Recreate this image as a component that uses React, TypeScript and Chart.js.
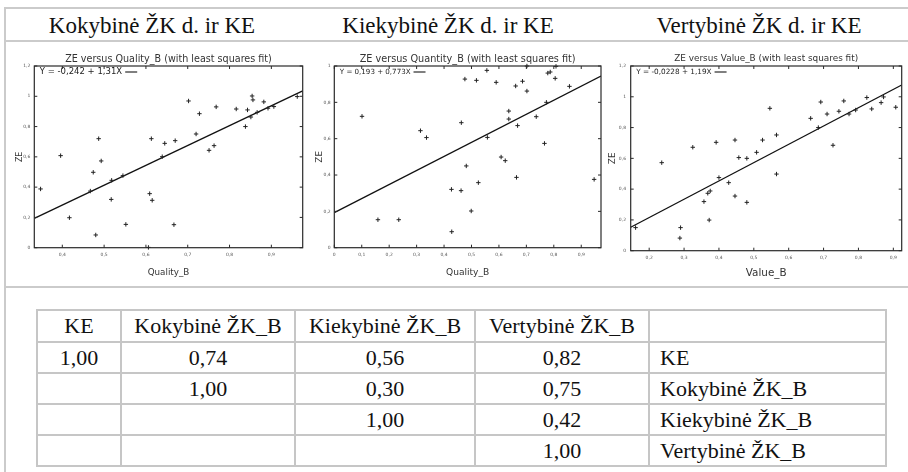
import React, { useEffect, useRef } from "react";
import { Chart, registerables } from "chart.js";

Chart.register(...registerables);

// ---------- Panel headings ----------
const panelHeadings = ["Kokybinė ŽK d. ir KE", "Kiekybinė ŽK d. ir KE", "Vertybinė ŽK d. ir KE"];
const panelTitles = [
  "ZE versus Quality_B (with least squares fit)",
  "ZE versus Quantity_B (with least squares fit)",
  "ZE versus Value_B (with least squares fit)",
];
const xTitles = ["Quality_B", "Quality_B", "Value_B"];
const equations = ["Y = -0,242 + 1,31X", "Y = 0,193 + 0,773X", "Y = -0,0228 + 1,19X"];
const fitIntercepts = [-0.242, 0.193, -0.0228];
const fitSlopes = [1.31, 0.773, 1.19];

// ---------- Chart 1: ZE vs Quality_B ----------
const qualityX = [0.348, 0.396, 0.417, 0.487, 0.474, 0.493, 0.467, 0.480, 0.518, 0.517, 0.545, 0.552, 0.606, 0.613, 0.609, 0.615, 0.639, 0.645, 0.670, 0.667, 0.702, 0.720, 0.728, 0.751, 0.763, 0.768, 0.816, 0.838, 0.843, 0.851, 0.854, 0.856, 0.866, 0.882, 0.892, 0.906, 0.962];
const qualityZE = [0.388, 0.608, 0.198, 0.720, 0.498, 0.573, 0.374, 0.084, 0.445, 0.319, 0.476, 0.154, 0.002, 0.720, 0.357, 0.313, 0.601, 0.689, 0.707, 0.152, 0.969, 0.751, 0.885, 0.643, 0.674, 0.930, 0.916, 0.800, 0.910, 0.863, 1.002, 0.976, 0.894, 0.963, 0.921, 0.932, 0.998];
const qualityXTicks = [0.4, 0.5, 0.6, 0.7, 0.8, 0.9];
const qualityYTicks = [0, 0.2, 0.4, 0.6, 0.8, 1, 1.2];

// ---------- Chart 2: ZE vs Quantity_B ----------
const quantityX = [0.101, 0.159, 0.235, 0.314, 0.336, 0.427, 0.428, 0.462, 0.463, 0.476, 0.481, 0.499, 0.518, 0.525, 0.556, 0.558, 0.590, 0.608, 0.623, 0.636, 0.636, 0.661, 0.664, 0.668, 0.686, 0.702, 0.702, 0.736, 0.766, 0.773, 0.778, 0.787, 0.805, 0.808, 0.857, 0.947];
const quantityZE = [0.723, 0.154, 0.154, 0.644, 0.606, 0.321, 0.088, 0.314, 0.688, 0.928, 0.450, 0.202, 0.921, 0.358, 0.976, 0.607, 0.910, 0.499, 0.479, 0.752, 0.708, 0.890, 0.387, 0.672, 0.916, 1.0, 0.862, 0.721, 0.574, 0.800, 0.961, 0.967, 0.932, 0.998, 0.888, 0.376];
const quantityXTicks = [0, 0.1, 0.2, 0.3, 0.4, 0.5, 0.6, 0.7, 0.8, 0.9];
const quantityYTicks = [0, 0.2, 0.4, 0.6, 0.8, 1];

// ---------- Chart 3: ZE vs Value_B ----------
const valueX = [0.161, 0.236, 0.325, 0.288, 0.290, 0.357, 0.368, 0.375, 0.372, 0.392, 0.400, 0.428, 0.446, 0.446, 0.457, 0.480, 0.480, 0.508, 0.525, 0.546, 0.565, 0.565, 0.663, 0.685, 0.692, 0.710, 0.727, 0.744, 0.758, 0.773, 0.792, 0.824, 0.838, 0.865, 0.872, 0.907];
const valueZE = [0.150, 0.572, 0.672, 0.082, 0.150, 0.319, 0.373, 0.388, 0.199, 0.704, 0.475, 0.442, 0.719, 0.355, 0.605, 0.600, 0.314, 0.639, 0.719, 0.925, 0.752, 0.498, 0.860, 0.800, 0.966, 0.888, 0.685, 0.906, 0.973, 0.888, 0.914, 0.995, 0.921, 0.962, 0.999, 0.932];
const valueXTicks = [0.2, 0.3, 0.4, 0.5, 0.6, 0.7, 0.8, 0.9];
const valueYTicks = [0, 0.2, 0.4, 0.6, 0.8, 1, 1.2];

// ---------- Correlation table ----------
const tableHeader = ["KE", "Kokybinė ŽK_B", "Kiekybinė ŽK_B", "Vertybinė ŽK_B", ""];
const corrRow1 = ["1,00", "0,74", "0,56", "0,82", "KE"];
const corrRow2 = ["", "1,00", "0,30", "0,75", "Kokybinė ŽK_B"];
const corrRow3 = ["", "", "1,00", "0,42", "Kiekybinė ŽK_B"];
const corrRow4 = ["", "", "", "1,00", "Vertybinė ŽK_B"];

const SANS = "'DejaVu Sans', Verdana, sans-serif";
const SERIF = '"Liberation Serif"';

const fmt = (v: number) => String(Number(v.toFixed(2))).replace(".", ",");

const framePlugin = {
  id: "frame",
  afterDatasetsDraw(chart: any, _args: any, opts: any) {
    const { ctx, chartArea: a, scales } = chart;
    ctx.save();
    ctx.strokeStyle = "#2a2a2a";
    ctx.lineWidth = 1.2;
    ctx.strokeRect(a.left, a.top, a.right - a.left, a.bottom - a.top);
    ctx.lineWidth = 1;
    ctx.beginPath();
    for (const t of scales.x.ticks) {
      const px = scales.x.getPixelForValue(t.value);
      ctx.moveTo(px, a.bottom);
      ctx.lineTo(px, a.bottom - 3);
      ctx.moveTo(px, a.top);
      ctx.lineTo(px, a.top + 3);
    }
    for (const t of scales.y.ticks) {
      const py = scales.y.getPixelForValue(t.value);
      ctx.moveTo(a.left, py);
      ctx.lineTo(a.left + 3, py);
      ctx.moveTo(a.right, py);
      ctx.lineTo(a.right - 3, py);
    }
    ctx.stroke();
    // equation legend
    ctx.font = `${opts.eqSize}px ${SANS}`;
    ctx.fillStyle = "#222";
    ctx.textBaseline = "middle";
    ctx.textAlign = "left";
    const tx = a.left + 5.5;
    const ty = a.top + 6;
    ctx.fillText(opts.text, tx, ty);
    const w = ctx.measureText(opts.text).width;
    ctx.beginPath();
    ctx.lineWidth = 1.2;
    ctx.moveTo(tx + w + 3, ty);
    ctx.lineTo(tx + w + 15, ty);
    ctx.stroke();
    ctx.restore();
  },
};

type PanelProps = {
  idx: number;
  xs: number[];
  ys: number[];
  xTicks: number[];
  yTicks: number[];
  xMin: number;
  xMax: number;
  yMax: number;
  left: number;
  width: number;
  top: number;
  height: number;
  yAxisW: number;
  xAxisH: number;
  padRight: number;
  titleSize: number;
  titleTop: number;
  titleBottom: number;
  xTitleSize: number;
  xTitleBottom: number;
  xTickPad: number;
  yTitleSize: number;
  yTitleTop: number;
  yTickPad: number;
  eqSize: number;
};

function ScatterPanel(p: PanelProps) {
  const ref = useRef<HTMLCanvasElement>(null);
  useEffect(() => {
    const pts = p.xs.map((x, i) => ({ x, y: p.ys[i] }));
    const fit = [p.xMin, p.xMax].map((x) => ({ x, y: fitIntercepts[p.idx] + fitSlopes[p.idx] * x }));
    const chart = new Chart(ref.current as HTMLCanvasElement, {
      type: "scatter",
      data: {
        datasets: [
          {
            data: pts,
            pointStyle: "cross",
            pointRadius: 2.2,
            borderColor: "#222",
            backgroundColor: "#222",
            borderWidth: 1,
            clip: false as any,
            showLine: false,
          } as any,
          {
            type: "line",
            data: fit,
            borderColor: "#111",
            borderWidth: 1.3,
            pointRadius: 0,
            showLine: true,
            fill: false,
          } as any,
        ],
      },
      options: {
        animation: false,
        responsive: false,
        maintainAspectRatio: false,
        layout: { padding: { left: 0, top: 0, right: p.padRight, bottom: 0 } },
        plugins: {
          legend: { display: false },
          tooltip: { enabled: false },
          title: {
            display: true,
            text: panelTitles[p.idx],
            fullSize: false,
            color: "#333",
            font: { family: SANS, size: p.titleSize, weight: "normal" as any },
            padding: { top: p.titleTop, bottom: p.titleBottom },
          },
          frame: { text: equations[p.idx], eqSize: p.eqSize },
        } as any,
        scales: {
          x: {
            type: "linear",
            min: p.xMin,
            max: p.xMax,
            grid: { display: false, drawTicks: false },
            border: { display: false },
            ticks: {
              padding: p.xTickPad,
              color: "#555",
              font: { family: SANS, size: 4.5 },
              maxRotation: 0,
              autoSkip: false,
              callback: (v: any) => fmt(Number(v)),
            },
            afterBuildTicks: (s: any) => {
              s.ticks = p.xTicks.map((v) => ({ value: v }));
            },
            afterFit: (s: any) => {
              s.height = p.xAxisH;
              s.paddingLeft = 0;
              s.paddingRight = 0;
            },
            title: {
              display: true,
              text: xTitles[p.idx],
              color: "#333",
              font: { family: SANS, size: p.xTitleSize },
              padding: { top: 0, bottom: p.xTitleBottom },
            },
          },
          y: {
            type: "linear",
            min: 0,
            max: p.yMax,
            grid: { display: false, drawTicks: false },
            border: { display: false },
            ticks: {
              padding: p.yTickPad,
              color: "#555",
              font: { family: SANS, size: 4.5 },
              autoSkip: false,
              callback: (v: any) => fmt(Number(v)),
            },
            afterBuildTicks: (s: any) => {
              s.ticks = p.yTicks.map((v) => ({ value: v }));
            },
            afterFit: (s: any) => {
              s.width = p.yAxisW;
              s.paddingTop = 0;
              s.paddingBottom = 0;
            },
            title: {
              display: true,
              text: "ZE",
              color: "#333",
              font: { family: SANS, size: p.yTitleSize },
              padding: { top: p.yTitleTop, bottom: 0 },
            },
          },
        },
      },
      plugins: [framePlugin as any],
    });
    return () => chart.destroy();
  }, []);
  return (
    <canvas
      ref={ref}
      width={p.width}
      height={p.height}
      style={{ position: "absolute", left: p.left, top: p.top, width: p.width, height: p.height }}
    />
  );
}

const rule = (style: React.CSSProperties) => (
  <div style={{ position: "absolute", background: "#cbcbcb", ...style }} />
);

export default function App() {
  const rows = [corrRow1, corrRow2, corrRow3, corrRow4];
  const colWidths = [84, 174, 180, 174, 237];
  const cellBase: React.CSSProperties = {
    border: "2px solid #c6c6c6",
    padding: 0,
    fontFamily: SERIF,
    fontSize: 22,
    color: "#111",
    verticalAlign: "middle",
    whiteSpace: "nowrap",
  };
  return (
    <div
      style={{
        position: "absolute",
        left: 0,
        top: 0,
        width: 908,
        height: 472,
        overflow: "hidden",
        background: "#fff",
        fontFamily: SERIF,
      }}
    >
      {rule({ left: 4, top: 7, width: 904, height: 2 })}
      {rule({ left: 4, top: 40, width: 904, height: 2 })}
      {rule({ left: 4, top: 286, width: 904, height: 2 })}
      {rule({ left: 4, top: 7, width: 2, height: 465 })}

      {panelHeadings.map((h, i) => (
        <div
          key={h}
          style={{
            position: "absolute",
            left: [2, 298, 609][i],
            top: 13.8,
            width: 300,
            textAlign: "center",
            fontFamily: SERIF,
            fontSize: 23,
            lineHeight: "23px",
            color: "#111",
            whiteSpace: "nowrap",
          }}
        >
          {h}
        </div>
      ))}

      <ScatterPanel
        idx={0}
        xs={qualityX}
        ys={qualityZE}
        xTicks={qualityXTicks}
        yTicks={qualityYTicks}
        xMin={0.333}
        xMax={0.975}
        yMax={1.2}
        left={8}
        width={300}
        top={48}
        height={234}
        yAxisW={26.3}
        xAxisH={34.3}
        padRight={5.3}
        titleSize={9.6}
        titleTop={5.24}
        titleBottom={1.24}
        xTitleSize={8.75}
        xTitleBottom={4.05}
        xTickPad={4.6}
        yTitleSize={8}
        yTitleTop={7.2}
        yTickPad={4}
        eqSize={8.5}
      />
      <ScatterPanel
        idx={1}
        xs={quantityX}
        ys={quantityZE}
        xTicks={quantityXTicks}
        yTicks={quantityYTicks}
        xMin={0}
        xMax={0.972}
        yMax={1}
        left={308}
        width={298}
        top={48}
        height={234}
        yAxisW={26.3}
        xAxisH={34.3}
        padRight={4.3}
        titleSize={9.7}
        titleTop={5.18}
        titleBottom={1.18}
        xTitleSize={9.1}
        xTitleBottom={3.84}
        xTickPad={4.6}
        yTitleSize={8.8}
        yTitleTop={6.72}
        yTickPad={3.6}
        eqSize={7.1}
      />
      <ScatterPanel
        idx={2}
        xs={valueX}
        ys={valueZE}
        xTicks={valueXTicks}
        yTicks={valueYTicks}
        xMin={0.147}
        xMax={0.924}
        yMax={1.2}
        left={606}
        width={302}
        top={48}
        height={234}
        yAxisW={24.7}
        xAxisH={31.3}
        padRight={6.3}
        titleSize={8.9}
        titleTop={5.66}
        titleBottom={1.66}
        xTitleSize={10.4}
        xTitleBottom={2.46}
        xTickPad={4.9}
        yTitleSize={8.8}
        yTitleTop={1.42}
        yTickPad={4.7}
        eqSize={7.3}
      />

      <table
        style={{
          position: "absolute",
          left: 36,
          top: 309,
          width: 849,
          borderCollapse: "collapse",
          tableLayout: "fixed",
        }}
      >
        <colgroup>
          {colWidths.map((w, i) => (
            <col key={i} style={{ width: w }} />
          ))}
        </colgroup>
        <tbody>
          <tr style={{ height: 32 }}>
            {tableHeader.map((h, i) => (
              <td key={i} style={{ ...cellBase, textAlign: "center" }}>
                {h}
              </td>
            ))}
          </tr>
          {rows.map((r, ri) => (
            <tr key={ri} style={{ height: 31 }}>
              {r.map((c, ci) => (
                <td
                  key={ci}
                  style={{
                    ...cellBase,
                    textAlign: ci === 4 ? "left" : "center",
                    paddingLeft: ci === 4 ? 10 : 0,
                  }}
                >
                  {c}
                </td>
              ))}
            </tr>
          ))}
        </tbody>
      </table>
    </div>
  );
}
